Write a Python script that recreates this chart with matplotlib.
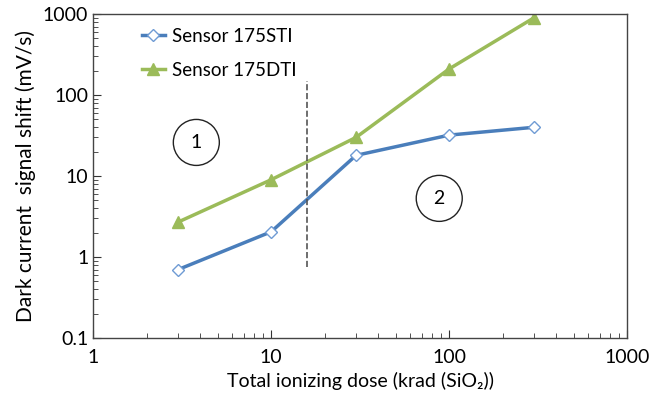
import matplotlib
matplotlib.use('Agg')
import matplotlib.pyplot as plt
from matplotlib.patches import Ellipse

plt.rcParams['font.family'] = ['Lato', 'DejaVu Sans']

dose = [3, 10, 30, 100, 300]
sti = [0.7, 2.05, 18, 32, 40]
dti = [2.7, 9, 30, 210, 900]

fig = plt.figure(figsize=(6.7, 4.01), dpi=100)
ax = fig.add_axes([0.139, 0.157, 0.797, 0.808])

ax.plot(dose, sti, color='#4a7ebb', lw=2.5, marker='D', ms=6.5,
        mfc='white', mec='#6f9bd4', mew=1.0, label='Sensor 175STI')
ax.plot(dose, dti, color='#9bbb59', lw=2.5, marker='^', ms=9,
        mfc='#9bbb59', mec='#9bbb59', label='Sensor 175DTI')

ax.plot([16, 16], [0.75, 150], ls='--', color='#555555', lw=1.2)

ax.set_xscale('log')
ax.set_yscale('log')
ax.set_xlim(1, 1000)
ax.set_ylim(0.1, 1000)
ax.set_xticks([1, 10, 100, 1000])
ax.set_xticklabels(['1', '10', '100', '1000'])
ax.set_yticks([0.1, 1, 10, 100, 1000])
ax.set_yticklabels(['0.1', '1', '10', '100', '1000'])
ax.tick_params(which='major', direction='in', length=6, labelsize=14, color='#333333')
ax.tick_params(which='minor', direction='in', length=3.5, color='#333333')
ax.tick_params(axis='x', pad=8)
for s in ax.spines.values():
    s.set_color('#444444')
    s.set_linewidth(1.0)

ax.set_xlabel('Total ionizing dose (krad (SiO₂))', fontsize=14, labelpad=4)
ax.set_ylabel('Dark current  signal shift (mV/s)', fontsize=15, labelpad=5)

# circled region labels (drawn in axes-fraction coords so they stay round)
for cx, cy, txt in [(3.8, 26, '1'), (88, 5.3, '2')]:
    px, py = ax.transData.transform((cx, cy))
    fx, fy = ax.transAxes.inverted().transform((px, py))
    ax.add_patch(Ellipse((fx, fy), 46 / 534, 46 / 324, transform=ax.transAxes,
                         fill=False, ec='#222222', lw=1.0))
    ax.text(fx, fy, txt, transform=ax.transAxes, ha='center', va='center', fontsize=14)

ax.legend(loc='upper left', bbox_to_anchor=(0.06, 1.01), frameon=False,
          fontsize=13.5, handlelength=1.2, handletextpad=0.4, labelspacing=0.9)

fig.savefig('out.png', dpi=100)
